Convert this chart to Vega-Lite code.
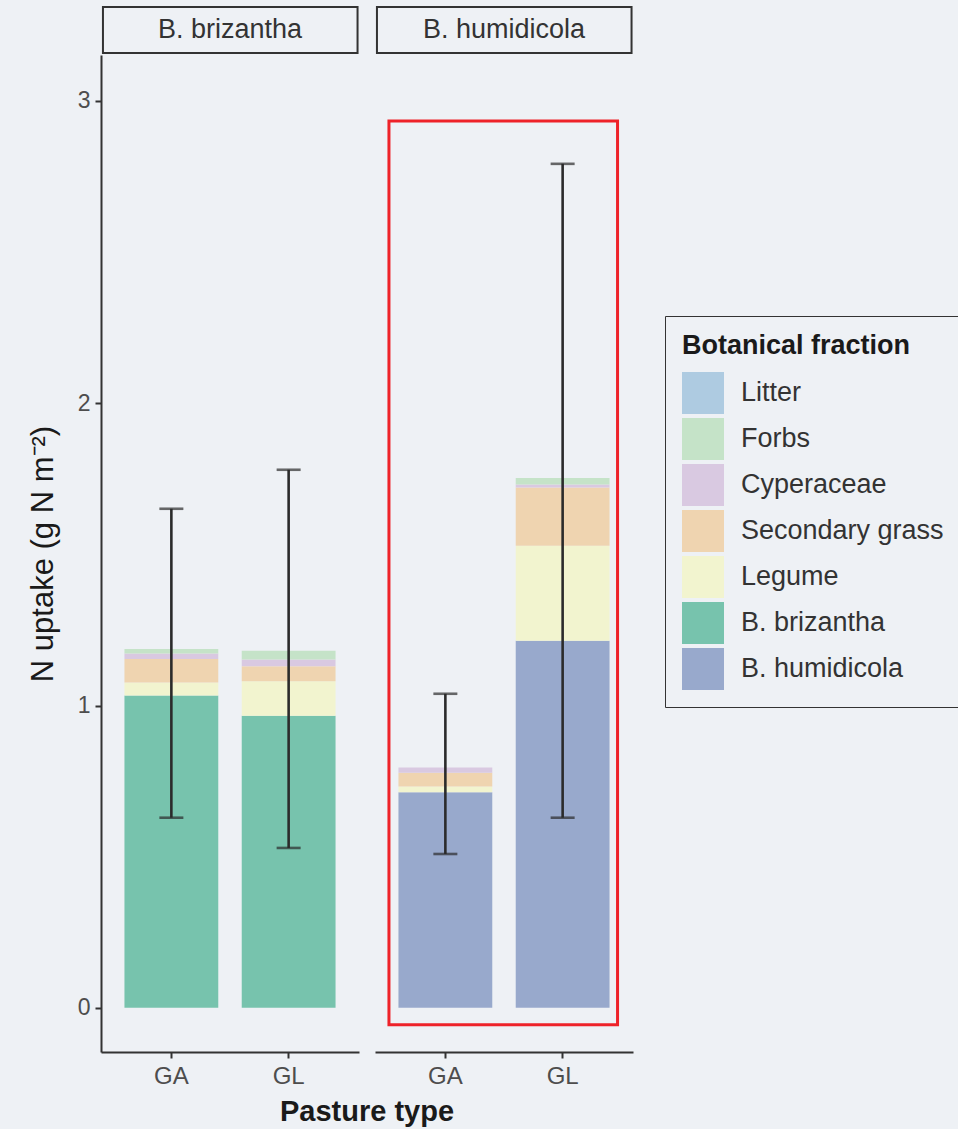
{
  "$schema": "https://vega.github.io/schema/vega-lite/v6.json",
  "background": "#eef1f5",
  "padding": {"left": 27, "top": 5, "right": 3, "bottom": 3},
  "config": {
    "font": "Liberation Sans",
    "view": {"stroke": null},
    "axis": {"domainColor": "#333333", "domainWidth": 2, "tickColor": "#333333", "tickWidth": 2, "tickSize": 6, "grid": false, "labelColor": "#4d4d4d", "titleColor": "#1a1a1a", "labelFont": "Liberation Sans", "titleFont": "Liberation Sans"},
    "legend": {"strokeColor": "#333333"}
  },
  "data": {"values": [
    {"panel": "B. brizantha", "pasture": "GA", "fraction": "B. brizantha", "value": 1.033},
    {"panel": "B. brizantha", "pasture": "GA", "fraction": "Legume", "value": 0.043},
    {"panel": "B. brizantha", "pasture": "GA", "fraction": "Secondary grass", "value": 0.078},
    {"panel": "B. brizantha", "pasture": "GA", "fraction": "Cyperaceae", "value": 0.018},
    {"panel": "B. brizantha", "pasture": "GA", "fraction": "Forbs", "value": 0.015},
    {"panel": "B. brizantha", "pasture": "GL", "fraction": "B. brizantha", "value": 0.966},
    {"panel": "B. brizantha", "pasture": "GL", "fraction": "Legume", "value": 0.114},
    {"panel": "B. brizantha", "pasture": "GL", "fraction": "Secondary grass", "value": 0.05},
    {"panel": "B. brizantha", "pasture": "GL", "fraction": "Cyperaceae", "value": 0.022},
    {"panel": "B. brizantha", "pasture": "GL", "fraction": "Forbs", "value": 0.029},
    {"panel": "B. humidicola", "pasture": "GA", "fraction": "B. humidicola", "value": 0.713},
    {"panel": "B. humidicola", "pasture": "GA", "fraction": "Legume", "value": 0.019},
    {"panel": "B. humidicola", "pasture": "GA", "fraction": "Secondary grass", "value": 0.046},
    {"panel": "B. humidicola", "pasture": "GA", "fraction": "Cyperaceae", "value": 0.017},
    {"panel": "B. humidicola", "pasture": "GL", "fraction": "B. humidicola", "value": 1.214},
    {"panel": "B. humidicola", "pasture": "GL", "fraction": "Legume", "value": 0.315},
    {"panel": "B. humidicola", "pasture": "GL", "fraction": "Secondary grass", "value": 0.192},
    {"panel": "B. humidicola", "pasture": "GL", "fraction": "Cyperaceae", "value": 0.01},
    {"panel": "B. humidicola", "pasture": "GL", "fraction": "Forbs", "value": 0.022},
    {"panel": "B. brizantha", "pasture": "GA", "lo": 0.629, "hi": 1.651},
    {"panel": "B. brizantha", "pasture": "GL", "lo": 0.529, "hi": 1.78},
    {"panel": "B. humidicola", "pasture": "GA", "lo": 0.509, "hi": 1.039},
    {"panel": "B. humidicola", "pasture": "GL", "lo": 0.629, "hi": 2.792}
  ]},
  "facet": {
    "column": {
      "field": "panel", "type": "nominal", "title": "Pasture type",
      "header": {"labels": false, "titleOrient": "bottom", "titleFontSize": 29, "titleFontWeight": "bold", "titleColor": "#1a1a1a", "titleFont": "Liberation Sans", "titlePadding": 0}
    }
  },
  "spacing": 16,
  "spec": {
    "width": 258,
    "height": 997,
    "encoding": {
      "x": {"field": "pasture", "type": "nominal", "scale": {"paddingInner": 0.2, "paddingOuter": 0.2}, "axis": {"title": null, "labelFontSize": 24, "labelAngle": 0, "labelPadding": 6}}
    },
    "layer": [
      {
        "transform": [
          {"filter": "isValid(datum.fraction)"},
          {"calculate": "indexof(['B. brizantha','B. humidicola','Legume','Secondary grass','Cyperaceae','Forbs','Litter'], datum.fraction)", "as": "ord"}
        ],
        "mark": {"type": "bar"},
        "encoding": {
          "y": {"field": "value", "type": "quantitative", "stack": "zero", "scale": {"domain": [-0.146, 3.152], "nice": false, "zero": false}, "axis": {"values": [0, 1, 2, 3], "format": "d", "title": "N uptake (g N m⁻²)", "titleFontSize": 31, "titleFontWeight": "normal", "labelFontSize": 23, "labelPadding": 5, "titlePadding": 18}},
          "color": {
            "field": "fraction", "type": "nominal",
            "scale": {
              "domain": ["Litter", "Forbs", "Cyperaceae", "Secondary grass", "Legume", "B. brizantha", "B. humidicola"],
              "range": ["#aecbe1", "#c5e3c8", "#d9c9e1", "#efd4b0", "#f2f4cf", "#77c3ad", "#98a9cc"]
            },
            "legend": {
              "title": "Botanical fraction", "orient": "none", "legendX": 564, "legendY": 261,
              "titleFontSize": 27, "titleFontWeight": "bold", "titleColor": "#1a1a1a", "titlePadding": 12, "titleLimit": 500,
              "labelFontSize": 27, "labelColor": "#333333", "labelOffset": 17, "labelLimit": 500,
              "symbolType": "square", "symbolSize": 1764, "symbolStrokeWidth": 0, "symbolOpacity": 1,
              "rowPadding": 4, "padding": 17
            }
          },
          "order": {"field": "ord", "type": "quantitative"}
        }
      },
      {
        "transform": [{"filter": "isValid(datum.lo)"}],
        "mark": {"type": "rule", "color": "#2b2b2b", "strokeWidth": 2.6},
        "encoding": {"y": {"field": "lo", "type": "quantitative"}, "y2": {"field": "hi"}}
      },
      {
        "transform": [{"filter": "isValid(datum.lo)"}],
        "mark": {"type": "tick", "color": "#2b2b2b", "thickness": 2.6, "size": 24},
        "encoding": {"y": {"field": "hi", "type": "quantitative"}}
      },
      {
        "transform": [{"filter": "isValid(datum.lo)"}],
        "mark": {"type": "tick", "color": "#2b2b2b", "thickness": 2.6, "size": 24},
        "encoding": {"y": {"field": "lo", "type": "quantitative"}}
      },
      {
        "transform": [{"filter": "isValid(datum.lo) && datum.pasture == 'GA'"}],
        "mark": {"type": "rect", "fill": null, "fillOpacity": 0, "stroke": "#333333", "strokeWidth": 2, "clip": false, "xOffset": -21.5, "x2Offset": 22},
        "encoding": {
          "x": {"datum": "GA", "bandPosition": 0},
          "x2": {"datum": "GL", "bandPosition": 1},
          "y": {"datum": 3.159},
          "y2": {"datum": 3.311}
        }
      },
      {
        "transform": [{"filter": "isValid(datum.lo) && datum.pasture == 'GA'"}],
        "mark": {"type": "text", "fontSize": 27, "color": "#333333", "baseline": "middle", "align": "center", "clip": false, "xOffset": 11.7},
        "encoding": {
          "x": {"datum": "GA", "bandPosition": 1},
          "y": {"datum": 3.235},
          "text": {"field": "panel"}
        }
      },
      {
        "transform": [{"filter": "isValid(datum.lo) && datum.pasture == 'GA' && datum.panel == 'B. humidicola'"}],
        "mark": {"type": "rect", "fill": null, "fillOpacity": 0, "stroke": "#ee2229", "strokeWidth": 3, "clip": false, "xOffset": -9.5, "x2Offset": 8},
        "encoding": {
          "x": {"datum": "GA", "bandPosition": 0},
          "x2": {"datum": "GL", "bandPosition": 1},
          "y": {"datum": -0.056},
          "y2": {"datum": 2.934}
        }
      }
    ]
  }
}
